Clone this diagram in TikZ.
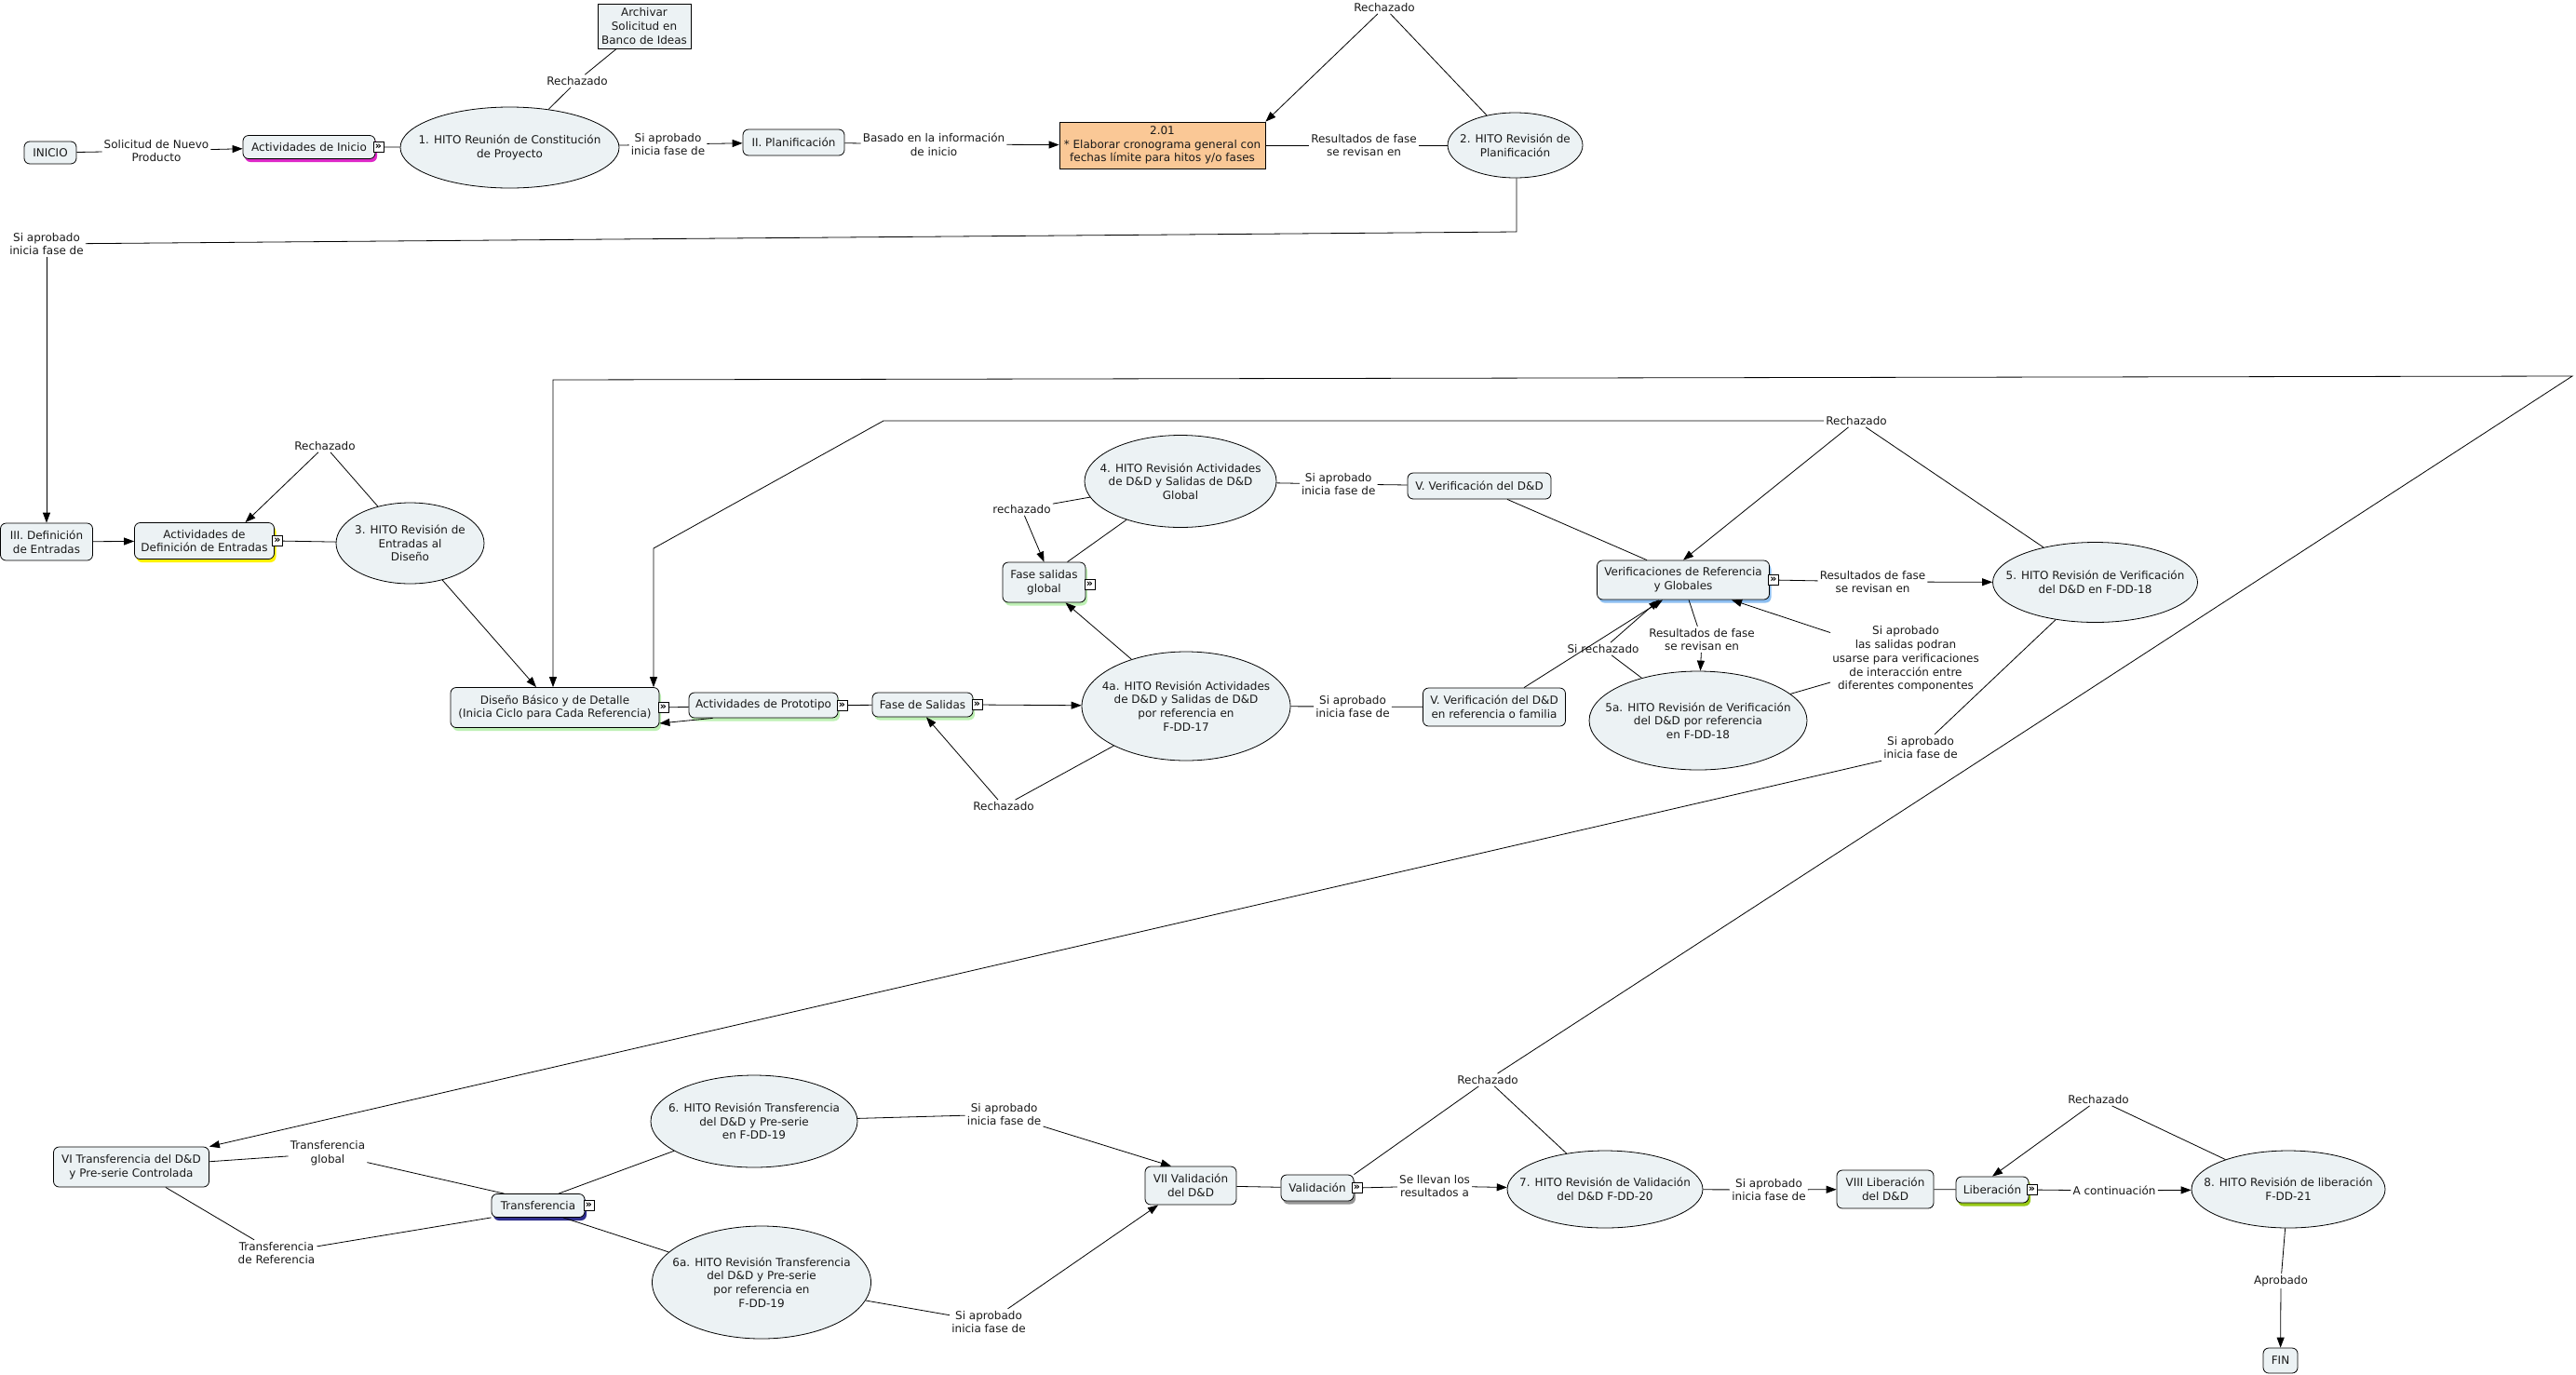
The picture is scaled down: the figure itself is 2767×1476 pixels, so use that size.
\documentclass[tikz,border=0pt]{standalone}
\usepackage{fontspec}
\setmainfont{DejaVu Sans}
\usetikzlibrary{shapes.geometric,arrows.meta,shadows}
\definecolor{nodefill}{RGB}{236,242,244}
\definecolor{orangefill}{RGB}{250,200,150}
\definecolor{shmag}{RGB}{222,40,200}
\definecolor{shyel}{RGB}{255,242,0}
\definecolor{shgrn}{RGB}{190,240,180}
\definecolor{shblu}{RGB}{140,190,240}
\definecolor{shnav}{RGB}{45,45,140}
\definecolor{shgry}{RGB}{150,150,150}
\definecolor{shlim}{RGB}{150,200,20}
\definecolor{txt}{RGB}{25,25,25}
\newcommand\myfont{\fontsize{12}{14.7}\selectfont}
\newcommand\iconfont{\fontsize{11}{11}\selectfont\bfseries}
\begin{document}
\begin{tikzpicture}[x=1pt,y=-1pt,
  base/.style={font=\myfont, text=txt, align=center},
  cbox/.style={base, draw, fill=nodefill, rounded corners=6pt, inner sep=0pt, line width=0.8pt},
  sqbox/.style={base, draw, fill=nodefill, inner sep=0pt, line width=0.8pt},
  hito/.style={draw, ellipse, fill=nodefill, inner sep=0pt, line width=0.8pt},
  htext/.style={base, inner sep=0pt},
  lbl/.style={base, inner sep=2pt},
  icon/.style={draw, fill=white, inner sep=0pt, minimum width=11pt, minimum height=11pt, font=\iconfont, line width=0.6pt},
  con/.style={line width=0.8pt, draw=black},
  arr/.style={con, -{Triangle[length=11pt,width=8pt]}},
  shad/.style={drop shadow={shadow xshift=2pt, shadow yshift=-3.5pt, fill=#1, opacity=1, draw=none}}
]
\useasboundingbox[fill=white] (0,0) rectangle (2767,1476);

% ---------- concept nodes ----------
\node[cbox, minimum width=56pt, minimum height=24pt] (ini) at (54,164) {INICIO};
\node[cbox, shad=shmag, minimum width=142pt, minimum height=25pt] (ai) at (332,158) {Actividades de Inicio};
\node[hito, minimum width=235pt, minimum height=87pt] (h1) at (547.5,158.5) {};
\node[htext] at (h1) {1. HITO Reunión de Constitución\\de Proyecto};
\node[sqbox, minimum width=100pt, minimum height=48pt] (arc) at (692,28) {Archivar\\Solicitud en\\Banco de Ideas};
\node[cbox, minimum width=109pt, minimum height=28pt] (pl) at (852.5,153) {II. Planificación};
\node[sqbox, fill=orangefill, minimum width=221pt, minimum height=50pt] (b201) at (1248.5,156) {2.01\\* Elaborar cronograma general con\\fechas límite para hitos y/o fases};
\node[hito, minimum width=145pt, minimum height=70pt] (h2) at (1627.5,156) {};
\node[htext] at (h2) {2. HITO Revisión de\\Planificación};

\node[cbox, minimum width=99pt, minimum height=40pt] (iii) at (50,582) {III. Definición\\de Entradas};
\node[cbox, shad=shyel, minimum width=150pt, minimum height=39pt] (ade) at (219.5,581) {Actividades de\\Definición de Entradas};
\node[hito, minimum width=159pt, minimum height=87pt] (h3) at (440.5,583.5) {};
\node[htext] at (h3) {3. HITO Revisión de\\Entradas al\\Diseño};

\node[cbox, shad=shgrn, minimum width=224pt, minimum height=43pt] (dis) at (596,760) {Diseño Básico y de Detalle\\(Inicia Ciclo para Cada Referencia)};
\node[cbox, shad=shgrn, minimum width=160pt, minimum height=27pt] (ap) at (820,757.5) {Actividades de Prototipo};
\node[cbox, shad=shgrn, minimum width=108pt, minimum height=26pt] (fs) at (991,757) {Fase de Salidas};
\node[hito, minimum width=224pt, minimum height=117pt] (h4a) at (1274,758.5) {};
\node[htext] at (h4a) {4a. HITO Revisión Actividades\\de D\&D y Salidas de D\&D\\por referencia en\\F-DD-17};
\node[cbox, shad=shgrn, minimum width=89pt, minimum height=43pt] (fsg) at (1121.5,625.5) {Fase salidas\\global};
\node[hito, minimum width=206pt, minimum height=99pt] (h4) at (1268,517) {};
\node[htext] at (h4) {4. HITO Revisión Actividades\\de D\&D y Salidas de D\&D\\Global};
\node[cbox, minimum width=154pt, minimum height=28pt] (v1) at (1589,522) {V. Verificación del D\&D};
\node[cbox, shad=shblu, minimum width=185pt, minimum height=42pt] (ver) at (1808,623) {Verificaciones de Referencia\\y Globales};
\node[hito, minimum width=220pt, minimum height=86pt] (h5) at (2250.5,625.5) {};
\node[htext] at (h5) {5. HITO Revisión de Verificación\\del D\&D en F-DD-18};
\node[hito, minimum width=234pt, minimum height=106pt] (h5a) at (1824,774) {};
\node[htext] at (h5a) {5a. HITO Revisión de Verificación\\del D\&D por referencia\\en F-DD-18};
\node[cbox, minimum width=153pt, minimum height=41pt] (v2) at (1605,759.5) {V. Verificación del D\&D\\en referencia o familia};

\node[cbox, minimum width=167pt, minimum height=43pt] (vi) at (141,1253.5) {VI Transferencia del D\&D\\y Pre-serie Controlada};
\node[cbox, shad=shnav, minimum width=100pt, minimum height=25pt] (tr) at (578,1295) {Transferencia};
\node[hito, minimum width=222pt, minimum height=99pt] (h6) at (810,1204.5) {};
\node[htext] at (h6) {6. HITO Revisión Transferencia\\del D\&D y Pre-serie\\en F-DD-19};
\node[hito, minimum width=235pt, minimum height=121pt] (h6a) at (818,1377.5) {};
\node[htext] at (h6a) {6a. HITO Revisión Transferencia\\del D\&D y Pre-serie\\por referencia en\\F-DD-19};
\node[cbox, minimum width=98pt, minimum height=41pt] (vii) at (1279,1273.5) {VII Validación\\del D\&D};
\node[cbox, shad=shgry, minimum width=78pt, minimum height=28pt] (val) at (1415,1276) {Validación};
\node[hito, minimum width=210pt, minimum height=83pt] (h7) at (1724,1277.5) {};
\node[htext] at (h7) {7. HITO Revisión de Validación\\del D\&D F-DD-20};
\node[cbox, minimum width=104pt, minimum height=41pt] (viii) at (2025,1277.5) {VIII Liberación\\del D\&D};
\node[cbox, shad=shlim, minimum width=78pt, minimum height=28pt] (lib) at (2140,1278) {Liberación};
\node[hito, minimum width=208pt, minimum height=83pt] (h8) at (2458,1277.5) {};
\node[htext] at (h8) {8. HITO Revisión de liberación\\F-DD-21};
\node[cbox, minimum width=37pt, minimum height=27pt] (fin) at (2449.5,1461.5) {FIN};

% ---------- icons ----------
\node[icon] (ai-i) at ([xshift=3pt]ai.east) {»};
\node[icon] (ade-i) at ([xshift=3pt]ade.east) {»};
\node[icon] (dis-i) at ([xshift=4pt]dis.east) {»};
\node[icon] (ap-i) at ([xshift=4pt]ap.east) {»};
\node[icon] (fs-i) at ([xshift=4pt]fs.east) {»};
\node[icon] (fsg-i) at ([xshift=4pt,yshift=-2pt]fsg.east) {»};
\node[icon] (ver-i) at ([xshift=4pt]ver.east) {»};
\node[icon] (tr-i) at ([xshift=4pt]tr.east) {»};
\node[icon] (val-i) at ([xshift=3pt]val.east) {»};
\node[icon] (lib-i) at ([xshift=3pt]lib.east) {»};

% ---------- linking phrases ----------
\node[lbl] (l1) at (168,162) {Solicitud de Nuevo\\Producto};
\node[lbl] (l2) at (620,87) {Rechazado};
\node[lbl] (l3) at (717.5,155) {Si aprobado\\inicia fase de};
\node[lbl] (l4) at (1003,155) {Basado en la información\\de inicio};
\node[lbl] (l5) at (1465,156) {Resultados de fase\\se revisan en};
\node[lbl] (l6) at (1487,8) {Rechazado};
\node[lbl] (l7) at (50,262) {Si aprobado\\inicia fase de};
\node[lbl] (l8) at (349,479) {Rechazado};
\node[lbl] (l9) at (1097.5,547) {rechazado};
\node[lbl] (l10) at (1437.7,520) {Si aprobado\\inicia fase de};
\node[lbl] (l11) at (1994,452) {Rechazado};
\node[lbl] (l12) at (2011.5,625) {Resultados de fase\\se revisan en};
\node[lbl] (l13) at (1828,687) {Resultados de fase\\se revisan en};
\node[lbl] (l14) at (1722,697) {Si rechazado};
\node[lbl] (l15) at (1453,759) {Si aprobado\\inicia fase de};
\node[lbl] (l16) at (2047,708) {Si aprobado\\las salidas podran\\usarse para verificaciones\\de interacción entre\\diferentes componentes};
\node[lbl] (l17) at (2063,803) {Si aprobado\\inicia fase de};
\node[lbl] (l18) at (1078,866) {Rechazado};
\node[lbl] (l19) at (352,1239) {Transferencia\\global};
\node[lbl] (l20) at (297,1346) {Transferencia\\de Referencia};
\node[lbl] (l21) at (1078.6,1197) {Si aprobado\\inicia fase de};
\node[lbl] (l22) at (1062,1420) {Si aprobado\\inicia fase de};
\node[lbl] (l23) at (1541,1274) {Se llevan los\\resultados a};
\node[lbl] (l24) at (1598,1160) {Rechazado};
\node[lbl] (l25) at (1900,1278) {Si aprobado\\inicia fase de};
\node[lbl] (l26) at (2271,1279) {A continuación};
\node[lbl] (l27) at (2254,1181) {Rechazado};
\node[lbl] (l28) at (2450,1376) {Aprobado};

% ---------- bend coordinates ----------
\coordinate (k1) at (1629,249);
\coordinate (kA) at (2763,404);
\coordinate (kB) at (594,408);
\coordinate (kC) at (949,452);
\coordinate (kD) at (702,589);

% ---------- connectors ----------
\draw[con] (ini) -- (l1);
\draw[arr] (l1) -- (ai);
\draw[con] (ai-i) -- (h1);
\draw[con] (h1) -- (l2);
\draw[con] (l2) -- (arc);
\draw[con] (h1) -- (l3);
\draw[arr] (l3) -- (pl);
\draw[con] (pl) -- (l4);
\draw[arr] (l4) -- (b201);
\draw[con] (b201) -- (l5);
\draw[con] (l5) -- (h2);
\draw[con] (h2) -- (l6);
\draw[arr] (l6) -- (b201.north east);
\draw[con] (h2.south -| k1) -- (k1) -- (l7);
\draw[arr] (l7) -- (iii);

\draw[arr] (iii) -- (ade);
\draw[con] (ade-i) -- (h3);
\draw[con] (h3) -- (l8);
\draw[arr] (l8) -- ([xshift=44pt]ade.north);
\draw[arr] (h3) -- ([xshift=-20pt]dis.north);
\draw[arr] (l24) -- (kA) -- (kB) -- (kB |- dis.north);
\draw[arr] (l11.west) -- (kC) -- (kD) -- (kD |- dis.north);
\draw[arr] ([xshift=26pt]ap.south west) -- ([yshift=-17pt]dis.east);
\draw[con] (dis-i) -- (ap);
\draw[con] (ap-i) -- (fs);
\draw[arr] (fs-i) -- (h4a);
\draw[con] (h4a) -- (l18);
\draw[arr] (l18) -- ([xshift=4pt]fs.south);
\draw[arr] (h4a) -- ([xshift=23pt]fsg.south);
\draw[con] (h4) -- ([xshift=25pt]fsg.north);
\draw[con] (h4) -- (l9);
\draw[arr] (l9) -- (fsg.north);
\draw[con] (h4) -- (l10);
\draw[con] (l10) -- (v1);
\draw[con] ([xshift=30pt]v1.south) -- ([xshift=-39pt]ver.north);
\draw[arr] (l11) -- (ver.north);
\draw[con] (h5) -- (l11);
\draw[con] (ver-i) -- (l12);
\draw[arr] (l12) -- (h5);
\draw[con] ([xshift=6pt]ver.south) -- (l13);
\draw[arr] (l13) -- (h5a);
\draw[con] (h5a) -- (l14);
\draw[arr] ([xshift=8pt]l14.north) -- ([xshift=-26pt]ver.south);
\draw[arr] ([xshift=32pt]v2.north) -- ([xshift=-22pt]ver.south);
\draw[con] (h4a) -- (l15);
\draw[con] (l15) -- (v2);
\draw[con] (h5a) -- ([yshift=-25pt]l16.west);
\draw[arr] ([yshift=-9pt]l16.north west) -- ([xshift=52pt]ver.south);
\draw[con] (h5) -- (l17);
\draw[arr] (l17.south west) -- (vi.north east);

\draw[con] (vi) -- (l19);
\draw[con] (l19) -- ([xshift=14pt]tr.north west);
\draw[con] (vi) -- (l20);
\draw[con] (l20) -- (tr.south west);
\draw[con] ([xshift=22pt]tr.north) -- (h6);
\draw[con] ([xshift=27pt]tr.south) -- (h6a);
\draw[con] (h6) -- (l21);
\draw[arr] (l21) -- ([xshift=-21pt]vii.north);
\draw[con] (h6a) -- (l22);
\draw[arr] (l22) -- ([xshift=-35pt]vii.south);
\draw[con] (vii) -- (val);
\draw[con] (val-i) -- (l23);
\draw[arr] (l23) -- (h7);
\draw[con] (val.north east) -- (l24);
\draw[con] (h7) -- (l24);
\draw[con] (h7) -- (l25);
\draw[arr] (l25) -- (viii);
\draw[con] (viii) -- (lib);
\draw[con] (lib-i) -- (l26);
\draw[arr] (l26) -- (h8);
\draw[con] (h8) -- (l27);
\draw[arr] (l27) -- (lib.north);
\draw[con] (h8) -- (l28);
\draw[arr] (l28) -- (fin);
\end{tikzpicture}
\end{document}
